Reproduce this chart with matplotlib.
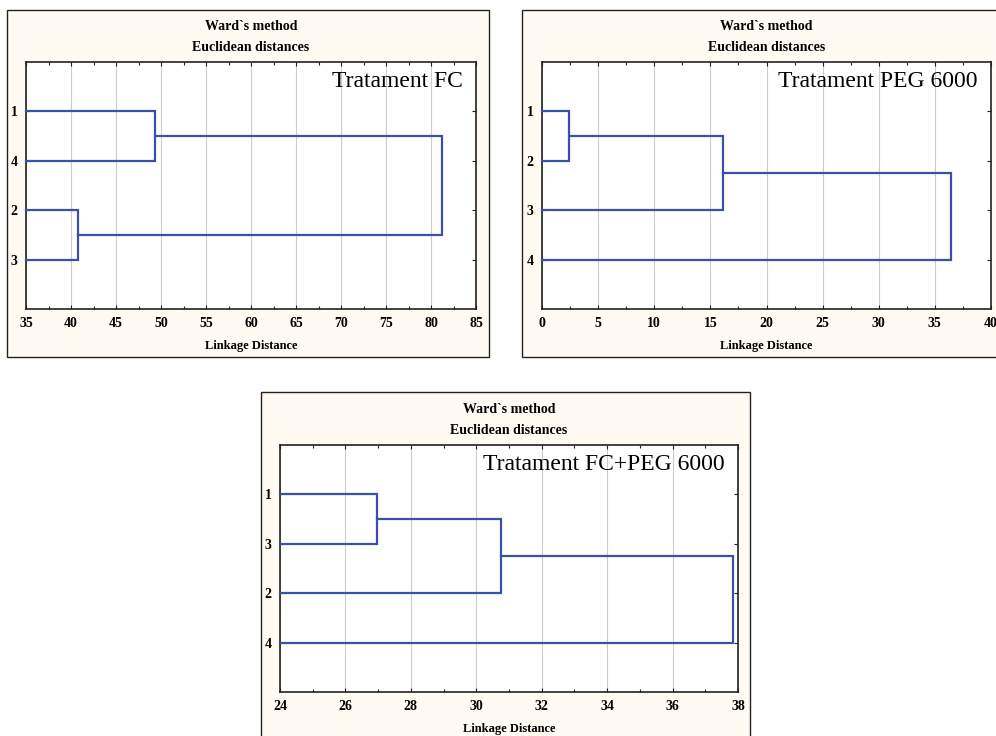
import matplotlib.pyplot as plt
from matplotlib.patches import Rectangle
from matplotlib.ticker import MultipleLocator

plt.rcParams['font.family'] = ['Liberation Serif', 'DejaVu Serif']

# panel 1: Tratament FC
fc_leaves = ['1', '4', '2', '3']
fc_merges = [(0, 1, 49.3), (2, 3, 40.8), (4, 5, 81.2)]
fc_xlim = (35, 85)
fc_xticks = [35, 40, 45, 50, 55, 60, 65, 70, 75, 80, 85]

# panel 2: Tratament PEG 6000
peg_leaves = ['1', '2', '3', '4']
peg_merges = [(0, 1, 2.4), (4, 2, 16.1), (5, 3, 36.4)]
peg_xlim = (0, 40)
peg_xticks = [0, 5, 10, 15, 20, 25, 30, 35, 40]

# panel 3: Tratament FC+PEG 6000
mix_leaves = ['1', '3', '2', '4']
mix_merges = [(0, 1, 26.95), (4, 2, 30.75), (5, 3, 37.85)]
mix_xlim = (24, 38)
mix_xticks = [24, 26, 28, 30, 32, 34, 36, 38]

W, H = 996, 736
fig = plt.figure(figsize=(W / 100, H / 100), dpi=100)
line_col = '#3d50a8'
cream = '#fffaf2'


def px_axes(l, r, t, b):
    ax = fig.add_axes([l / W, 1 - b / H, (r - l) / W, (b - t) / H])
    ax.set_zorder(2)
    return ax


def frame(l, r, t, b):
    fig.patches.append(Rectangle((l / W, 1 - b / H), (r - l) / W, (b - t) / H,
                                 transform=fig.transFigure, facecolor=cream,
                                 edgecolor='#222222', lw=1.0, zorder=-1))


def panel(ax, leaves, merges, xlim, xticks, minor, label):
    x0 = xlim[0]
    pos = {i: i + 1 for i in range(len(leaves))}
    hgt = {i: x0 for i in range(len(leaves))}
    for k, (a, b, h) in enumerate(merges):
        nid = len(leaves) + k
        ax.plot([hgt[a], h, h, hgt[b]], [pos[a], pos[a], pos[b], pos[b]],
                color=line_col, lw=1.6, solid_joinstyle='miter', clip_on=False, zorder=3)
        pos[nid] = (pos[a] + pos[b]) / 2
        hgt[nid] = h
    ax.set_xlim(*xlim)
    ax.set_ylim(len(leaves) + 1, 0)
    ax.set_xticks(xticks)
    ax.xaxis.set_minor_locator(MultipleLocator(minor))
    ax.set_yticks(range(1, len(leaves) + 1))
    ax.set_yticklabels(leaves)
    ax.tick_params(which='both', direction='in', top=True, right=True,
                   labelsize=10, pad=6, width=0.8, color='#222222')
    ax.tick_params(which='major', length=3)
    ax.tick_params(which='minor', length=2)
    for t in ax.get_xticklabels() + ax.get_yticklabels():
        t.set_fontweight('bold')
    ax.grid(axis='x', color='#cccccc', lw=0.8)
    ax.set_axisbelow(True)
    for s in ax.spines.values():
        s.set_color('#222222')
        s.set_linewidth(1.2)
    ax.set_facecolor('white')
    ax.set_xlabel('Linkage Distance', fontsize=9, fontweight='bold', labelpad=7)
    ax.set_title('Ward`s method\nEuclidean distances', fontsize=10, fontweight='bold',
                 linespacing=1.75, pad=8)
    ax.text(0.97, 0.965, label, transform=ax.transAxes, ha='right', va='top', fontsize=17)


frame(7, 489, 10, 357)
frame(522, 1004, 10, 357)
frame(261, 750, 392, 745)

ax1 = px_axes(26, 476, 62, 309)
panel(ax1, fc_leaves, fc_merges, fc_xlim, fc_xticks, 2.5, 'Tratament FC')
ax2 = px_axes(542, 991, 62, 309)
panel(ax2, peg_leaves, peg_merges, peg_xlim, peg_xticks, 2.5, 'Tratament PEG 6000')
ax3 = px_axes(280, 738, 445, 692)
panel(ax3, mix_leaves, mix_merges, mix_xlim, mix_xticks, 1, 'Tratament FC+PEG 6000')

fig.savefig('out.png', dpi=100, facecolor='white')
